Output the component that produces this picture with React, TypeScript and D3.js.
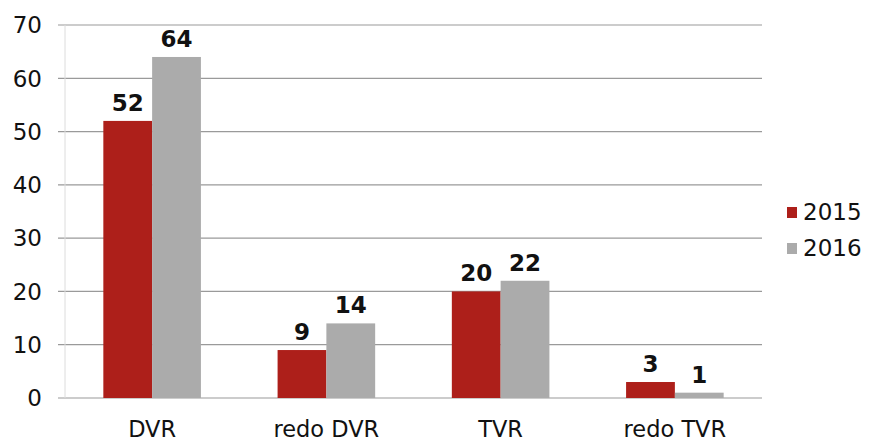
import React from "react";
import * as d3 from "d3";

const categories = ["DVR", "redo DVR", "TVR", "redo TVR"];
const seriesNames = ["2015", "2016"];
const values2015 = [52, 9, 20, 3];
const values2016 = [64, 14, 22, 1];
const yTicks = [0, 10, 20, 30, 40, 50, 60, 70];
const colors = ["#ad1f1a", "#ababab"];

const W = 869;
const H = 443;
const FONT = "'DejaVu Sans', Verdana, sans-serif";

export default function App() {
  const y = d3.scaleLinear().domain([0, 70]).range([398, 25]);
  const x = d3
    .scaleBand<string>()
    .domain(categories)
    .range([65, 762])
    .paddingInner(0.44)
    .paddingOuter(0.22);
  const xs = d3.scaleBand<string>().domain(seriesNames).range([0, x.bandwidth()]);
  const series = [values2015, values2016];

  return (
    <svg
      width={W}
      height={H}
      style={{ position: "absolute", left: 0, top: 0, background: "#fff" }}
      fontFamily={FONT}
    >
      <rect x={0} y={0} width={W} height={H} fill="#fff" />
      {yTicks.map((t) => (
        <g key={t}>
          <line x1={58} x2={762} y1={y(t)} y2={y(t)} stroke="#9a9a9a" strokeWidth={1.2} />
          <text x={42} y={y(t)} dy="0.36em" textAnchor="end" fontSize={23} fill="#111">
            {t}
          </text>
        </g>
      ))}
      <line x1={65} x2={65} y1={y(70)} y2={y(0)} stroke="#dcdcdc" strokeWidth={1} />
      {categories.map((c, i) => (
        <g key={c}>
          {series.map((vals, s) => {
            const bx = (x(c) ?? 0) + (xs(seriesNames[s]) ?? 0);
            const bw = xs.bandwidth();
            const v = vals[i];
            return (
              <g key={s}>
                <rect x={bx} y={y(v)} width={bw} height={y(0) - y(v)} fill={colors[s]} />
                <text
                  x={bx + bw / 2}
                  y={y(v) - 10}
                  textAnchor="middle"
                  fontSize={23}
                  fontWeight="bold"
                  fill="#111"
                >
                  {v}
                </text>
              </g>
            );
          })}
          <text
            x={(x(c) ?? 0) + x.bandwidth() / 2}
            y={437}
            textAnchor="middle"
            fontSize={22.5}
            fill="#111"
          >
            {c}
          </text>
        </g>
      ))}
      {seriesNames.map((n, s) => (
        <g key={n}>
          <rect x={787} y={207 + s * 36} width={10} height={11} fill={colors[s]} />
          <text x={803} y={220 + s * 36} fontSize={23} fill="#111">
            {n}
          </text>
        </g>
      ))}
    </svg>
  );
}
